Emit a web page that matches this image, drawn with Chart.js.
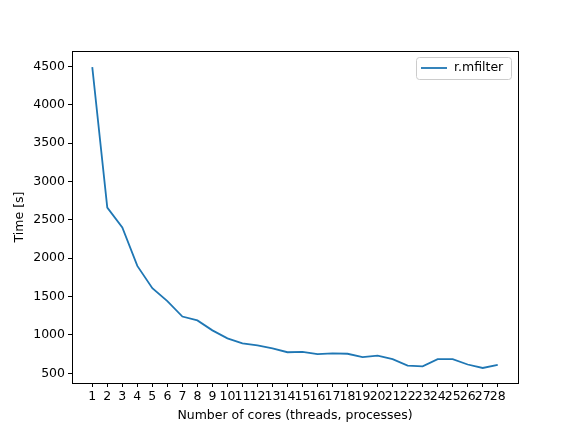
<!DOCTYPE html>
<html>
<head>
<meta charset="utf-8">
<script src="https://cdn.jsdelivr.net/npm/chart.js@4/dist/chart.umd.min.js"></script>
<style>
  body { margin: 0; background: #fff; }
  #wrap { width: 576px; height: 432px; }
</style>
</head>
<body>
<div id="wrap"><canvas id="myChart" width="576" height="432"></canvas></div>
<script>
var cores = [1, 2, 3, 4, 5, 6, 7, 8, 9, 10, 11, 12, 13, 14, 15, 16, 17, 18, 19, 20, 21, 22, 23, 24, 25, 26, 27, 28];
var times = [4490, 2660, 2400, 1900, 1610, 1440, 1240, 1190, 1060, 955, 890, 865, 825, 775, 780, 750, 760, 755, 710, 730, 685, 600, 590, 685, 685, 615, 570, 610];
var yTicks = [500, 1000, 1500, 2000, 2500, 3000, 3500, 4000, 4500];
var seriesName = "r.mfilter";

var font = "'DejaVu Sans', sans-serif";
var fs = 12.5;
var blue = "#1f77b4";

// frame on top/right plus the legend box in the upper right
var framePlugin = {
  id: 'frame',
  afterDraw: function(chart) {
    var a = chart.chartArea, c = chart.ctx;
    c.save();
    c.strokeStyle = '#000';
    c.lineWidth = 1;
    c.strokeRect(Math.round(a.left) + 0.5, Math.round(a.top) + 0.5, Math.round(a.right - a.left), Math.round(a.bottom - a.top));
    var bx = a.right - 102, by = a.top + 6, bw = 95, bh = 22;
    c.fillStyle = 'rgba(255,255,255,0.8)';
    c.strokeStyle = '#cccccc';
    c.beginPath();
    c.roundRect(bx + 0.5, by + 0.5, bw, bh, 3);
    c.fill();
    c.stroke();
    c.strokeStyle = blue;
    c.lineWidth = 1.8;
    c.beginPath();
    c.moveTo(bx + 5, by + 11);
    c.lineTo(bx + 31, by + 11);
    c.stroke();
    c.fillStyle = '#000';
    c.font = fs + "px " + font;
    c.textBaseline = 'middle';
    c.fillText(seriesName, bx + 38, by + 11);
    c.restore();
  }
};

var ctx = document.getElementById("myChart").getContext('2d');
var myChart = new Chart(ctx, {
  type: 'line',
  data: {
    datasets: [{
      label: seriesName,
      data: cores.map(function(c, i) { return { x: c, y: times[i] }; }),
      borderColor: blue,
      borderWidth: 1.8,
      pointRadius: 0,
      tension: 0,
      fill: false
    }]
  },
  options: {
    responsive: false,
    animation: false,
    layout: { padding: { left: 0, right: 58, top: 51, bottom: 0 } },
    plugins: {
      legend: { display: false },
      tooltip: { enabled: false }
    },
    scales: {
      x: {
        type: 'linear',
        min: -0.35,
        max: 29.35,
        afterBuildTicks: function(s) { s.ticks = cores.map(function(v) { return { value: v }; }); },
        afterFit: function(s) { s.height = 49; },
        grid: { drawOnChartArea: false, drawTicks: true, tickLength: 4, tickColor: '#000' },
        border: { color: '#000', width: 1 },
        ticks: { color: '#000', font: { family: font, size: fs }, padding: 2, maxRotation: 0, autoSkip: false, callback: function(v) { return String(v); } },
        title: { display: true, text: 'Number of cores (threads, processes)', color: '#000', font: { family: font, size: fs }, padding: { top: 0, bottom: 9 } }
      },
      y: {
        min: 374,
        max: 4700,
        afterBuildTicks: function(s) { s.ticks = yTicks.map(function(v) { return { value: v }; }); },
        afterFit: function(s) { s.width = 72; },
        grid: { drawOnChartArea: false, drawTicks: true, tickLength: 4, tickColor: '#000' },
        border: { color: '#000', width: 1 },
        ticks: { color: '#000', font: { family: font, size: fs }, padding: 3, callback: function(v) { return String(v); } },
        title: { display: true, text: 'Time [s]', color: '#000', font: { family: font, size: fs }, padding: { top: 12, bottom: 0 } }
      }
    }
  },
  plugins: [framePlugin]
});
</script>
</body>
</html>
